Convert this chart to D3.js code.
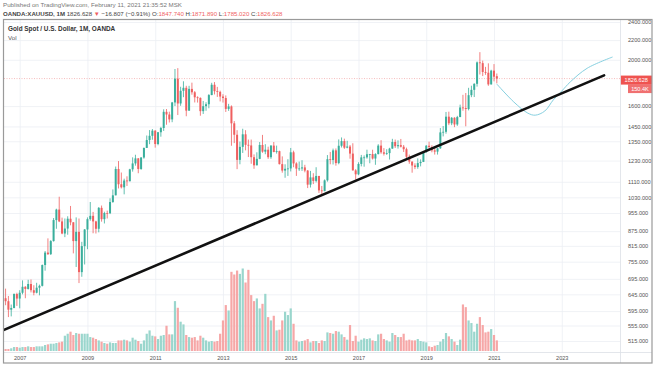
<!DOCTYPE html>
<html>
<head>
<meta charset="utf-8">
<script src="https://cdn.jsdelivr.net/npm/d3@7"></script>
<style>
  body { margin: 0; background: #fff; }
  svg { display: block; font-family: "Liberation Sans", Arial, sans-serif; }
</style>
</head>
<body>
<svg id="chart" width="654" height="366"></svg>
<script>
const UP_COLOR = '#3aae9c';
const DOWN_COLOR = '#ef5f5f';
const VOL_UP = '#9ad6cd';
const VOL_DOWN = '#f6a7a7';

// monthly bars, first one is Aug 2006
const START = {year: 2006, month: 8};

const open = [
  633, 624, 599, 604, 646,
  632, 650, 669, 662, 678, 658, 650, 666, 672, 743, 789, 783,
  834, 923, 971, 917, 865, 886, 929, 913, 834, 872, 718, 814,
  882, 927, 942, 917, 885, 979, 927, 955, 954, 1007, 1040, 1181,
  1097, 1081, 1117, 1113, 1179, 1213, 1243, 1181, 1248, 1307, 1358, 1386,
  1421, 1332, 1410, 1439, 1556, 1536, 1500, 1628, 1826, 1620, 1722, 1747,
  1565, 1738, 1710, 1669, 1664, 1561, 1599, 1614, 1687, 1773, 1719, 1713,
  1675, 1663, 1578, 1597, 1472, 1393, 1234, 1314, 1396, 1327, 1323, 1250,
  1202, 1240, 1326, 1284, 1296, 1250, 1322, 1282, 1287, 1209, 1172, 1182,
  1184, 1280, 1213, 1183, 1184, 1190, 1172, 1095, 1134, 1115, 1142, 1065,
  1061, 1118, 1238, 1233, 1292, 1215, 1321, 1351, 1309, 1316, 1272, 1173,
  1151, 1210, 1249, 1249, 1268, 1269, 1242, 1269, 1322, 1280, 1271, 1275,
  1303, 1345, 1318, 1325, 1315, 1299, 1253, 1224, 1201, 1192, 1215, 1222,
  1282, 1321, 1313, 1292, 1284, 1305, 1409, 1413, 1520, 1472, 1512, 1464,
  1517, 1589, 1585, 1577, 1686, 1730, 1781, 1975, 1968, 1886, 1879, 1776,
  1898, 1847.74
];
const high = [
  663, 640, 614, 648, 650,
  658, 690, 671, 692, 693, 674, 682, 676, 745, 795, 845, 838,
  932, 975, 1033, 934, 930, 940, 988, 914, 935, 930, 831, 884,
  935, 1007, 960, 920, 983, 990, 961, 966, 1025, 1070, 1195, 1227,
  1161, 1127, 1140, 1182, 1249, 1265, 1245, 1251, 1310, 1388, 1425, 1432,
  1424, 1412, 1447, 1575, 1577, 1557, 1632, 1913, 1921, 1756, 1803, 1764,
  1764, 1791, 1720, 1677, 1668, 1640, 1630, 1695, 1790, 1796, 1755, 1723,
  1694, 1684, 1617, 1605, 1488, 1424, 1348, 1434, 1424, 1361, 1361, 1267,
  1280, 1345, 1392, 1331, 1315, 1325, 1345, 1322, 1290, 1255, 1208, 1238,
  1307, 1290, 1220, 1224, 1232, 1205, 1175, 1170, 1157, 1191, 1142, 1088,
  1123, 1263, 1282, 1303, 1304, 1362, 1375, 1367, 1353, 1326, 1337, 1180,
  1220, 1264, 1261, 1296, 1270, 1296, 1274, 1331, 1357, 1306, 1299, 1308,
  1366, 1361, 1356, 1365, 1326, 1309, 1266, 1224, 1214, 1243, 1237, 1284,
  1326, 1347, 1324, 1310, 1306, 1439, 1453, 1555, 1557, 1517, 1516, 1526,
  1611, 1689, 1704, 1747, 1765, 1786, 1984, 2075, 1992, 1933, 1966, 1906,
  1959, 1871.89
];
const low = [
  612, 578, 580, 603, 610,
  603, 645, 633, 660, 651, 642, 648, 642, 670, 723, 780, 780,
  832, 885, 914, 862, 850, 860, 900, 786, 736, 681, 702, 745,
  802, 920, 866, 865, 870, 916, 908, 930, 950, 1003, 1040, 1075,
  1075, 1045, 1088, 1113, 1166, 1200, 1157, 1176, 1241, 1311, 1331, 1360,
  1309, 1324, 1380, 1419, 1462, 1478, 1480, 1600, 1532, 1602, 1670, 1523,
  1563, 1690, 1628, 1627, 1527, 1540, 1564, 1583, 1686, 1692, 1672, 1636,
  1627, 1555, 1563, 1321, 1338, 1180, 1208, 1276, 1292, 1251, 1211, 1182,
  1202, 1238, 1277, 1268, 1240, 1240, 1280, 1272, 1207, 1160, 1132, 1142,
  1167, 1191, 1142, 1170, 1170, 1162, 1077, 1080, 1098, 1107, 1052, 1046,
  1061, 1111, 1208, 1207, 1200, 1208, 1310, 1301, 1305, 1241, 1172, 1122,
  1146, 1196, 1194, 1241, 1214, 1236, 1205, 1267, 1271, 1260, 1264, 1236,
  1302, 1307, 1303, 1310, 1282, 1245, 1211, 1160, 1180, 1182, 1196, 1221,
  1276, 1304, 1280, 1266, 1266, 1301, 1382, 1400, 1459, 1459, 1445, 1454,
  1517, 1564, 1451, 1567, 1670, 1671, 1757, 1863, 1849, 1860, 1764, 1775,
  1802, 1785.02
];
const close = [
  624, 599, 604, 646, 632,
  650, 669, 662, 678, 658, 650, 666, 672, 743, 789, 783, 834,
  923, 971, 917, 865, 886, 929, 913, 834, 872, 718, 814, 882,
  927, 942, 917, 885, 979, 927, 955, 954, 1007, 1040, 1181, 1097,
  1081, 1117, 1113, 1179, 1213, 1243, 1181, 1248, 1307, 1358, 1386, 1421,
  1332, 1410, 1439, 1556, 1536, 1500, 1628, 1826, 1620, 1722, 1747, 1565,
  1738, 1710, 1669, 1664, 1561, 1599, 1614, 1687, 1773, 1719, 1713, 1675,
  1663, 1578, 1597, 1472, 1393, 1234, 1314, 1396, 1327, 1323, 1250, 1202,
  1240, 1326, 1284, 1296, 1250, 1322, 1282, 1287, 1209, 1172, 1182, 1184,
  1280, 1213, 1183, 1184, 1190, 1172, 1095, 1134, 1115, 1142, 1065, 1061,
  1118, 1238, 1233, 1292, 1215, 1321, 1351, 1309, 1316, 1272, 1173, 1151,
  1210, 1249, 1249, 1268, 1269, 1242, 1269, 1322, 1280, 1271, 1275, 1303,
  1345, 1318, 1325, 1315, 1299, 1253, 1224, 1201, 1192, 1215, 1222, 1282,
  1321, 1313, 1292, 1284, 1305, 1409, 1413, 1520, 1472, 1512, 1464, 1517,
  1589, 1585, 1577, 1686, 1730, 1781, 1975, 1968, 1886, 1879, 1776, 1898,
  1843.43, 1826.628
];
// volume in thousands
const volume = [
  28, 28, 38, 56, 56, 47, 56, 56, 66, 56, 56, 66, 66, 66,
  85, 94, 103, 103, 113, 122, 132,
  216, 244, 273, 226, 254, 244, 244, 244, 244, 197,
  188, 169, 150, 132, 113, 103, 122, 113, 113, 150,
  150, 160, 150, 132, 188, 160, 141, 103, 150, 244,
  291, 216, 207, 169, 216, 226, 357, 235, 235, 705,
  611, 414, 376, 226, 197, 188, 197, 150, 216, 188,
  150, 132, 141, 132, 141, 244, 432, 649, 573, 1119,
  1081, 1137, 1090, 1166, 968, 1147, 790, 705, 743, 602,
  667, 808, 479, 432, 498, 291, 301, 432, 555, 508,
  602, 385, 150, 132, 141, 150, 169, 122, 141, 141,
  113, 150, 141, 263, 254, 244, 282, 273, 235, 197,
  160, 367, 141, 216, 132, 160, 179, 169, 179, 150,
  141, 235, 244, 169, 150, 132, 254, 226, 197, 197,
  244, 150, 160, 150, 150, 169, 141, 132, 122, 66,
  56, 75, 85, 132, 169, 254, 207, 169, 132, 85,
  160, 658, 620, 432, 395, 273, 385, 479, 367, 263,
  273, 310, 226, 150.4
];

const PRICE_TICKS = [2400, 2200, 2000, 1600, 1450, 1350, 1230, 1110, 1030, 955,
  875, 815, 755, 695, 645, 595, 555, 515];
const YEAR_TICKS = [2007, 2009, 2011, 2013, 2015, 2017, 2019, 2021, 2023];

// drawings: [year, month, price]
const trendLine = [[2006, 7, 542], [2024, 4, 1855]];
const forecast = [
  [2021, 2, 1779], [2021, 8, 1632], [2022, 1, 1546], [2022, 3.6, 1531],
  [2022, 7, 1562], [2022, 10, 1648], [2023, 1, 1720], [2023, 4, 1797],
  [2023, 10, 1920], [2024, 7, 2027]
];

const LAST_PRICE = 1826.628;

const monthIdx = (yr, m) => (yr - 2007) * 12 + (m - 1);

var bars = close.map((c, i) => ({
  t: monthIdx(START.year, START.month) + i,
  o: open[i], h: high[i], l: low[i], c: c, v: volume[i]
}));

const PLOT = {left: 4, right: 620, top: 20, bottom: 352};

var svg = d3.select('#chart');
svg.append('rect').attr('width', 654).attr('height', 366).attr('fill', '#fff');

/* header */
svg.append('text')
  .attr('x', 3).attr('y', 7)
  .attr('font-size', 6.2).attr('fill', '#777')
  .text('Published on TradingView.com, February 11, 2021 21:35:52 MSK');

var hdr = svg.append('text')
  .attr('x', 3).attr('y', 16)
  .attr('font-size', 6.1).attr('fill', '#444');
hdr.append('tspan').attr('font-weight', 'bold').text('OANDA:XAUUSD, 1M');
hdr.append('tspan').text('  1826.628 ');
hdr.append('tspan').attr('fill', DOWN_COLOR).text('\u25BC');
hdr.append('tspan').text(' \u221216.807 (\u22120.91%)  O:');
hdr.append('tspan').attr('fill', DOWN_COLOR).text('1847.740');
hdr.append('tspan').text('  H:');
hdr.append('tspan').attr('fill', DOWN_COLOR).text('1871.890');
hdr.append('tspan').text('  L:');
hdr.append('tspan').attr('fill', DOWN_COLOR).text('1785.020');
hdr.append('tspan').text('  C:');
hdr.append('tspan').attr('fill', DOWN_COLOR).text('1826.628');

/* scales */
var x = d3.scaleLinear()
  .domain([0, 168])
  .range([19.7, 494.0]);

var y = d3.scaleLog()
  .domain([515, 2400])
  .range([341, 22]);

var yVol = d3.scaleLinear()
  .domain([0, d3.max(volume)])
  .range([PLOT.bottom - 1, 268.5]);

/* grid */
svg.append('g')
  .attr('transform', 'translate(' + PLOT.left + ',0)')
  .call(d3.axisRight(y).tickValues(PRICE_TICKS).tickSize(PLOT.right - PLOT.left).tickFormat(''))
  .call(g => g.select('.domain').remove())
  .call(g => g.selectAll('line').attr('stroke', '#eceff4').attr('stroke-width', 0.8));

svg.append('g')
  .attr('transform', 'translate(0,' + PLOT.top + ')')
  .call(d3.axisBottom(x).tickValues(YEAR_TICKS.map(yr => monthIdx(yr, 1))).tickSize(PLOT.bottom - PLOT.top).tickFormat(''))
  .call(g => g.select('.domain').remove())
  .call(g => g.selectAll('line').attr('stroke', '#eceff4').attr('stroke-width', 0.8));

/* plot */
svg.append('clipPath').attr('id', 'plotClip')
  .append('rect')
  .attr('x', PLOT.left).attr('y', PLOT.top)
  .attr('width', PLOT.right - PLOT.left).attr('height', PLOT.bottom - PLOT.top);

var plot = svg.append('g').attr('clip-path', 'url(#plotClip)');

// volume
plot.append('g').selectAll('rect')
  .data(bars)
  .join('rect')
  .attr('x', d => x(d.t) - 1.1)
  .attr('width', 2.2)
  .attr('y', d => yVol(d.v))
  .attr('height', d => yVol(0) - yVol(d.v))
  .attr('fill', d => d.c >= d.o ? VOL_UP : VOL_DOWN);

// last price line
plot.append('line')
  .attr('x1', PLOT.left).attr('x2', PLOT.right)
  .attr('y1', y(LAST_PRICE)).attr('y2', y(LAST_PRICE))
  .attr('stroke', '#f4a0a0').attr('stroke-width', 0.7)
  .attr('stroke-dasharray', '1,1.5');

// candles
var candle = plot.append('g').selectAll('g')
  .data(bars)
  .join('g')
  .attr('fill', d => d.c >= d.o ? UP_COLOR : DOWN_COLOR)
  .attr('stroke', d => d.c >= d.o ? UP_COLOR : DOWN_COLOR);

candle.append('line')
  .attr('x1', d => x(d.t)).attr('x2', d => x(d.t))
  .attr('y1', d => y(d.h)).attr('y2', d => y(d.l))
  .attr('stroke-width', 0.8);

candle.append('rect')
  .attr('x', d => x(d.t) - 1)
  .attr('width', 2)
  .attr('y', d => y(Math.max(d.o, d.c)))
  .attr('height', d => Math.max(0.8, Math.abs(y(d.o) - y(d.c))))
  .attr('stroke', 'none');

// forecast curve
plot.append('path')
  .datum(forecast)
  .attr('fill', 'none')
  .attr('stroke', '#86d0e0')
  .attr('stroke-width', 1)
  .attr('d', d3.line()
    .curve(d3.curveCatmullRom)
    .x(d => x(monthIdx(d[0], d[1])))
    .y(d => y(d[2])));

// trend line
plot.append('path')
  .datum(trendLine)
  .attr('fill', 'none')
  .attr('stroke', '#111')
  .attr('stroke-width', 2.6)
  .attr('stroke-linecap', 'round')
  .attr('d', d3.line()
    .x(d => x(monthIdx(d[0], d[1])))
    .y(d => y(d[2])));

/* legend text */
svg.append('text')
  .attr('x', 8).attr('y', 31)
  .attr('font-size', 6.4).attr('font-weight', 'bold').attr('fill', '#333')
  .text('Gold Spot / U.S. Dollar, 1M, OANDA');
svg.append('text')
  .attr('x', 8).attr('y', 39.5)
  .attr('font-size', 6.2).attr('fill', '#555')
  .text('Vol');

/* axes */
var yAxis = svg.append('g')
  .attr('transform', 'translate(' + (PLOT.right + 5) + ',0)')
  .call(d3.axisRight(y).tickValues(PRICE_TICKS).tickSize(0).tickFormat(d3.format('.3f')));
yAxis.select('.domain').remove();
yAxis.selectAll('text')
  .attr('font-family', '"Liberation Sans", Arial, sans-serif')
  .attr('font-size', 5.6).attr('fill', '#555').attr('dx', 0);

var xAxis = svg.append('g')
  .attr('transform', 'translate(0,' + PLOT.bottom + ')')
  .call(d3.axisBottom(x).tickValues(YEAR_TICKS.map(yr => monthIdx(yr, 1))).tickSize(0)
    .tickFormat((d, i) => YEAR_TICKS[i]));
xAxis.select('.domain').remove();
xAxis.selectAll('text')
  .attr('font-family', '"Liberation Sans", Arial, sans-serif')
  .attr('font-size', 5.6).attr('fill', '#555').attr('dy', '0.9em');

/* price tags */
var tags = [
  {label: d3.format('.3f')(LAST_PRICE), x0: PLOT.right + 0.5, y: y(LAST_PRICE) + 1.5, fill: '#ef5350'},
  {label: d3.format('.1f')(volume[volume.length - 1]) + 'K', x0: PLOT.right + 8, y: y(LAST_PRICE) + 10, fill: '#f07070'}
];
var tag = svg.append('g').selectAll('g').data(tags).join('g');
tag.append('rect')
  .attr('x', d => d.x0).attr('y', d => d.y - 4.5)
  .attr('width', d => 652 - d.x0).attr('height', 9)
  .attr('fill', d => d.fill);
tag.append('text')
  .attr('x', d => (d.x0 + 652) / 2).attr('y', d => d.y)
  .attr('dy', '0.35em').attr('text-anchor', 'middle')
  .attr('font-size', 5.6).attr('fill', '#fff')
  .text(d => d.label);

/* frame */
svg.append('line')
  .attr('x1', PLOT.right + 0.5).attr('x2', PLOT.right + 0.5)
  .attr('y1', PLOT.top).attr('y2', 363)
  .attr('stroke', '#dcdfe6').attr('stroke-width', 0.8);
svg.append('line')
  .attr('x1', 3).attr('x2', 652)
  .attr('y1', PLOT.bottom + 0.5).attr('y2', PLOT.bottom + 0.5)
  .attr('stroke', '#dcdfe6').attr('stroke-width', 0.8);
svg.append('rect')
  .attr('x', 3.5).attr('y', 19.5)
  .attr('width', 648.5).attr('height', 343.5)
  .attr('fill', 'none').attr('stroke', '#9a9a9a').attr('stroke-width', 1.2);
</script>
</body>
</html>
